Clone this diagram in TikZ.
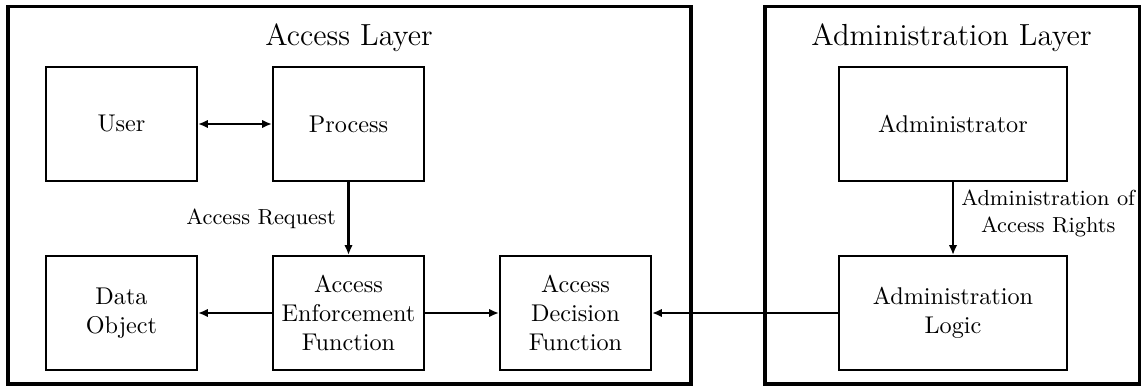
\documentclass[tikz,border=0pt]{standalone}
\usetikzlibrary{arrows.meta}
\begin{document}
\begin{tikzpicture}[x={(0.4132pt,0)},y={(0,-0.4132pt)},
  layer/.style={draw,line width=1.3pt},
  box/.style={draw,line width=0.9pt,minimum width=151*0.4132pt,minimum height=114*0.4132pt,align=center,inner sep=0pt},
  wbox/.style={box,minimum width=228*0.4132pt},
  tip/.tip={Latex[length=4pt,width=3.5pt]},
  conn/.style={line width=0.9pt,-tip},
  lbl/.style={font=\small,align=center},
  ttl/.style={font=\fontsize{12.6}{15}\selectfont}]
\useasboundingbox (0,0) rectangle (1143,389);
\draw[layer] (8,6.5) rectangle (691,384);
\draw[layer] (765,6.5) rectangle (1139.5,384);
\node[ttl] (t1) at (349,38) {Access Layer};
\node[ttl] (t2) at (951.5,38) {Administration Layer};
\node[box] (user) at (121.5,124) {User};
\node[box] (proc) at (348.5,124) {Process};
\node[box] (data) at (121.5,313) {Data\\Object};
\node[box] (aef) at (348.5,313) {Access\\Enforcement\\Function};
\node[box] (adf) at (575.5,313) {Access\\Decision\\Function};
\node[wbox] (admin) at (953,124) {Administrator};
\node[wbox] (alog) at (953,313) {Administration\\Logic};
\draw[conn,tip-tip] (user) -- (proc);
\draw[conn] (proc) -- node[lbl,left,xshift=-1.5pt] {Access Request} (aef);
\draw[conn] (aef) -- (data);
\draw[conn] (aef) -- (adf);
\draw[conn] (alog) -- (adf);
\draw[conn] (admin) -- node[lbl,right,inner xsep=3pt,yshift=2pt] {Administration of\\Access Rights} (alog);
\end{tikzpicture}
\end{document}
